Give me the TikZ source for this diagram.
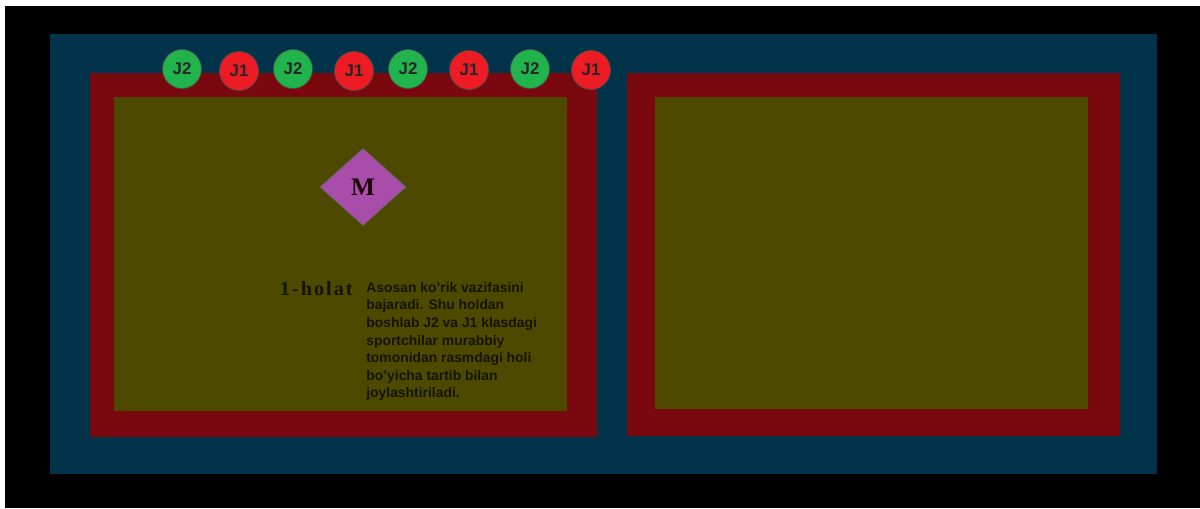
\documentclass[tikz,border=0pt]{standalone}
\usepackage{fontspec}
\setmainfont{Liberation Serif}
\setsansfont{Liberation Sans}
\newfontfamily\holfont[LetterSpace=10]{Liberation Serif}
\usetikzlibrary{positioning,shapes.geometric}
\definecolor{fieldblue}{RGB}{1,52,74}
\definecolor{zonered}{RGB}{122,9,15}
\definecolor{courtolive}{RGB}{77,74,0}
\definecolor{jgreen}{RGB}{34,180,76}
\definecolor{jred}{RGB}{237,28,36}
\definecolor{mpurple}{RGB}{168,78,170}
\definecolor{inkdark}{RGB}{22,20,0}
\tikzset{
  jtwo/.style={circle, draw=black!70, fill=jgreen, thin, minimum size=7.8mm, inner sep=0pt, font=\sffamily\bfseries\fontsize{9.6}{11}\selectfont, text=black!85},
  jone/.style={circle, draw=black!70, fill=jred, thin, minimum size=7.8mm, inner sep=0pt, font=\sffamily\bfseries\fontsize{9.6}{11}\selectfont, text=black!85},
  coach/.style={diamond, draw=black!60, fill=mpurple, thin, minimum width=17.2mm, minimum height=15.4mm, inner sep=0pt, font=\bfseries\Large, text=black!85!purple},
  caption/.style={font=\fontsize{7.9}{10}\selectfont\sffamily\bfseries, text=inkdark, align=left, inner sep=0pt}
}
\begin{document}
\begin{tikzpicture}[x=0.2mm, y=-0.2mm]
  \useasboundingbox (0,0) rectangle (1200,508);
  \fill[white] (0,0) rectangle (1200,508);
  \fill[black] (5,6) rectangle (1200,508);
  % field
  \fill[fieldblue] (50,34) rectangle (1157,474);
  \fill[zonered] (90,73) rectangle (597,437);
  \fill[courtolive] (114,97) rectangle (567,411);
  \fill[zonered] (627,73) rectangle (1120,436);
  \fill[courtolive] (655,97) rectangle (1088,409);
  % players
  \node[jtwo] (p1) at (182,69) {J2};
  \node[jone] (p2) at (239,71) {J1};
  \node[jtwo] (p3) at (293,69) {J2};
  \node[jone] (p4) at (354,71) {J1};
  \node[jtwo] (p5) at (408,69) {J2};
  \node[jone] (p6) at (469,70) {J1};
  \node[jtwo] (p7) at (530,69) {J2};
  \node[jone] (p8) at (591,70) {J1};
  \node[coach] (m) at (363,187) {M};
  % description
  \node[caption, anchor=north west] (txt) at (366,282) {Asosan ko'rik vazifasini\\bajaradi. Shu holdan\\boshlab J2 va J1 klasdagi\\sportchilar murabbiy\\tomonidan rasmdagi holi\\bo'yicha tartib bilan\\joylashtiriladi.};
  \node[font=\holfont\bfseries\fontsize{11.5}{14}\selectfont, text=inkdark, anchor=north east, inner sep=0pt] (hol) at (353,281) {1-holat};
\end{tikzpicture}
\end{document}
